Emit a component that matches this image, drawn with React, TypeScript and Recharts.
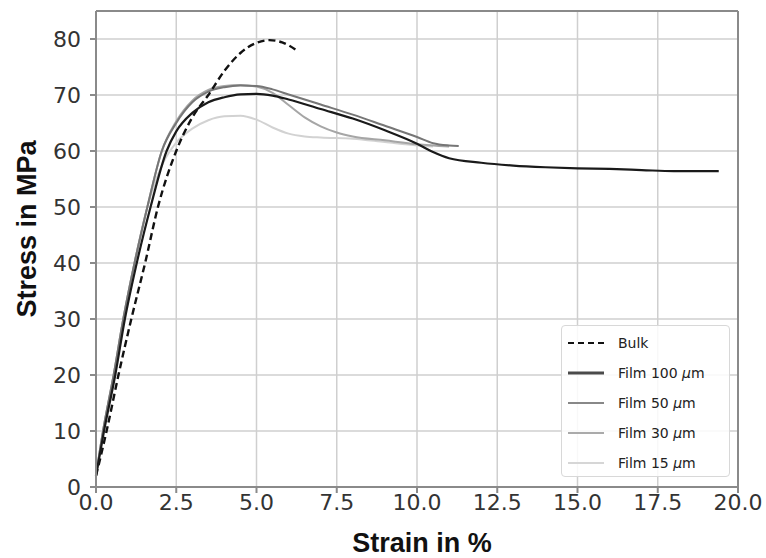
import { LineChart, Line, XAxis, YAxis, CartesianGrid, ReferenceLine, Legend } from 'recharts'

// strain (%) / stress (MPa)
const bulkX = [0, 0.33, 0.7, 1.1, 1.53, 1.93, 2.5, 3, 3.5, 4, 4.5, 5, 5.4, 5.8, 6.3]
const bulkY = [2, 10, 20, 30, 40, 50, 60, 66, 70, 74.3, 77.5, 79.3, 79.8, 79.4, 77.8]

const film100X = [0, 0.25, 0.6, 0.9, 1.27, 1.7, 2.2, 2.5, 3, 3.5, 4, 4.5, 5, 5.5, 6, 7, 8, 9, 10, 10.5, 11, 12, 13, 14, 15, 16, 17, 18, 19, 19.4]
const film100Y = [2, 10, 20, 30, 40, 50, 60, 63.5, 66.8, 68.7, 69.6, 70.1, 70.2, 69.9, 69.2, 67.5, 65.8, 63.7, 61.3, 59.8, 58.7, 57.9, 57.4, 57.1, 56.9, 56.8, 56.6, 56.4, 56.4, 56.4]

const film50X = [0, 0.22, 0.55, 0.85, 1.2, 1.6, 2.05, 2.5, 3, 3.5, 4, 4.5, 5, 5.5, 6, 7, 8, 9, 10, 10.5, 11, 11.3]
const film50Y = [2, 10, 20, 30, 40, 50, 60, 65, 68.7, 70.6, 71.4, 71.7, 71.6, 71, 70.1, 68.3, 66.5, 64.5, 62.5, 61.4, 61, 60.9]

const film30X = [0, 0.22, 0.55, 0.85, 1.2, 1.6, 2.05, 2.5, 3, 3.5, 4, 4.5, 5, 5.5, 6, 6.5, 7, 7.5, 8, 9, 10, 11]
const film30Y = [2, 10, 20, 30, 40, 50, 60, 65.3, 69, 70.9, 71.6, 71.8, 71.5, 70.4, 68.2, 66, 64.4, 63.3, 62.6, 61.9, 61.2, 60.8]

const film15X = [0, 0.22, 0.55, 0.85, 1.2, 1.6, 2.1, 2.5, 3, 3.5, 4, 4.5, 5, 5.5, 6, 6.5, 7, 8, 9, 10, 10.5]
const film15Y = [2, 10, 20, 30, 40, 50, 58, 61.5, 64, 65.5, 66.2, 66.3, 65.6, 64.2, 63.1, 62.6, 62.4, 62.2, 61.6, 61, 60.8]

const xTicks = [0, 2.5, 5, 7.5, 10, 12.5, 15, 17.5, 20]
const yTicks = [0, 10, 20, 30, 40, 50, 60, 70, 80]

const toPoints = (xs: number[], ys: number[]) => xs.map((x, i) => ({ x, y: ys[i] }))

const series = [
  { name: 'Film 15', data: toPoints(film15X, film15Y), color: '#d2d2d2', width: 2, dash: undefined },
  { name: 'Film 30', data: toPoints(film30X, film30Y), color: '#a6a6a6', width: 2, dash: undefined },
  { name: 'Film 50', data: toPoints(film50X, film50Y), color: '#767676', width: 2, dash: undefined },
  { name: 'Bulk', data: toPoints(bulkX, bulkY), color: '#111', width: 2.4, dash: '7 4' },
  { name: 'Film 100', data: toPoints(film100X, film100Y), color: '#1a1a1a', width: 2.2, dash: undefined },
]

const legendOrder = ['Bulk', 'Film 100', 'Film 50', 'Film 30', 'Film 15']
const legendColor: Record<string, string> = {
  'Bulk': '#111', 'Film 100': '#4a4a4a', 'Film 50': '#888', 'Film 30': '#aaa', 'Film 15': '#d6d6d6',
}

const LegendBox = () => (
  <div style={{
    width: 169, height: 152, boxSizing: 'border-box', border: '1px solid #d8d8d8',
    borderRadius: 4, background: 'rgba(255,255,255,0.85)', padding: '2px 0 0 6px',
    fontFamily: '"DejaVu Sans", sans-serif', fontSize: 14, color: '#222',
  }}>
    {legendOrder.map((name) => (
      <div key={name} style={{ display: 'flex', alignItems: 'center', height: 30 }}>
        <svg width={36} height={10} style={{ marginRight: 14 }}>
          <line x1={0} y1={5} x2={36} y2={5} stroke={legendColor[name]}
            strokeWidth={name === 'Film 100' ? 3 : 2} strokeDasharray={name === 'Bulk' ? '6 4' : undefined} />
        </svg>
        <span>
          {name === 'Bulk' ? 'Bulk' : <>{name} <i>μ</i>m</>}
        </span>
      </div>
    ))}
  </div>
)

const tickStyle = { fill: '#333', fontSize: 22, fontFamily: '"DejaVu Sans", sans-serif' }
const labelStyle = { fontSize: 27, fontWeight: 700, fontFamily: '"Liberation Sans", Arial, sans-serif' }

export default function App() {
  return (
    <div style={{ position: 'absolute', left: 0, top: 0, width: 766, height: 558, background: '#fff' }}>
      <LineChart width={766} height={558} margin={{ top: 11, right: 28, bottom: 0, left: 0 }}>
        <CartesianGrid stroke="#cfcfcf" strokeWidth={1.5} />
        <XAxis type="number" dataKey="x" domain={[0, 20]} ticks={xTicks} height={71}
          tickFormatter={(v: number) => v.toFixed(1)} tick={tickStyle}
          stroke="#8a8a8a" strokeWidth={2} tickSize={6} tickMargin={1} interval={0}
          label={{ value: 'Strain in %', position: 'insideBottom', offset: 6, dx: 5, fill: '#111', style: labelStyle }} />
        <YAxis type="number" dataKey="y" domain={[0, 85]} ticks={yTicks} width={96}
          tick={tickStyle} stroke="#8a8a8a" strokeWidth={2} tickSize={6} tickMargin={9} interval={0}
          label={{ value: 'Stress in MPa', angle: -90, position: 'insideLeft', offset: 26, dy: -20, fill: '#111',
            style: { ...labelStyle, textAnchor: 'middle' } }} />
        <ReferenceLine y={85} stroke="#8a8a8a" strokeWidth={2} />
        <ReferenceLine x={20} stroke="#8a8a8a" strokeWidth={2} />
        {series.map((s) => (
          <Line key={s.name} data={s.data} dataKey="y" name={s.name} type="monotone"
            stroke={s.color} strokeWidth={s.width} strokeDasharray={s.dash}
            dot={false} activeDot={false} isAnimationActive={false} />
        ))}
        <Legend layout="vertical" align="center" verticalAlign="middle" content={<LegendBox />}
          wrapperStyle={{ position: 'absolute', left: 561, top: 325, width: 169, height: 152 }} />
      </LineChart>
    </div>
  )
}
